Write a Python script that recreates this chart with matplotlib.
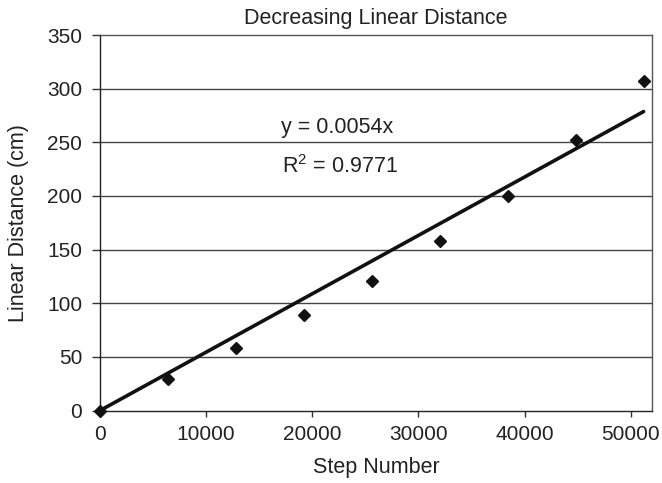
import numpy as np
import matplotlib
matplotlib.use("Agg")
import matplotlib.pyplot as plt

plt.rcParams['font.family'] = ['Liberation Sans', 'DejaVu Sans']
plt.rcParams['mathtext.fontset'] = 'custom'
plt.rcParams['mathtext.rm'] = 'Liberation Sans'
plt.rcParams['mathtext.it'] = 'Liberation Sans:italic'
plt.rcParams['mathtext.bf'] = 'Liberation Sans:bold'

step_number = [0, 6400, 12800, 19200, 25600, 32000, 38400, 44800, 51200]
linear_distance = [0, 29, 58, 89, 121, 158, 200, 252, 307]
x_ticks = [0, 10000, 20000, 30000, 40000, 50000]
y_ticks = [0, 50, 100, 150, 200, 250, 300, 350]
title = "Decreasing Linear Distance"
x_label = "Step Number"
y_label = "Linear Distance (cm)"
r_squared_label = "0.9771"

x = np.array(step_number, dtype=float)
y = np.array(linear_distance, dtype=float)
slope = np.sum(x * y) / np.sum(x * x)

fig = plt.figure(figsize=(6.62, 4.83), dpi=100)
ax = fig.add_axes([0.151, 0.150, 0.834, 0.7775])

for yt in y_ticks[1:-1]:
    ax.axhline(yt, color='#444444', lw=1.0, zorder=1)

ax.plot([x.min(), x.max()], [slope * x.min(), slope * x.max()], color='#111111', lw=2.6,
        solid_capstyle='round', zorder=3)
ax.plot(x, y, linestyle='none', marker='D', markersize=6, color='#111111', zorder=4, clip_on=False)

ax.set_xlim(0, 52000)
ax.set_ylim(0, 350)
ax.set_xticks(x_ticks)
ax.set_yticks(y_ticks)
ax.set_xticklabels([str(t) for t in x_ticks])
ax.set_yticklabels([str(t) for t in y_ticks])
ax.tick_params(direction='out', width=1, color='#333333', labelsize=15,
               labelcolor='#222222')
ax.tick_params(axis='y', length=5.8, pad=7)
ax.tick_params(axis='x', length=4.5, pad=6)
for s in ax.spines.values():
    s.set_color('#555555')
    s.set_linewidth(1.0)
ax.spines['left'].set_color('#222222')
ax.spines['bottom'].set_color('#222222')

ax.set_title(title, fontsize=15.5, color='#222222', pad=8)
ax.set_xlabel(x_label, fontsize=15.5, color='#222222', labelpad=9.5)
ax.set_ylabel(y_label, fontsize=15.5, color='#222222', labelpad=13)

ax.text(17075, 258.6, "y = %.4fx" % slope, fontsize=15.5, color='#222222', va='baseline', ha='left')
ax.text(17140, 221, "R$^2$ = " + r_squared_label, fontsize=15.5, color='#222222', va='baseline', ha='left')

fig.savefig("out.png", dpi=100)
